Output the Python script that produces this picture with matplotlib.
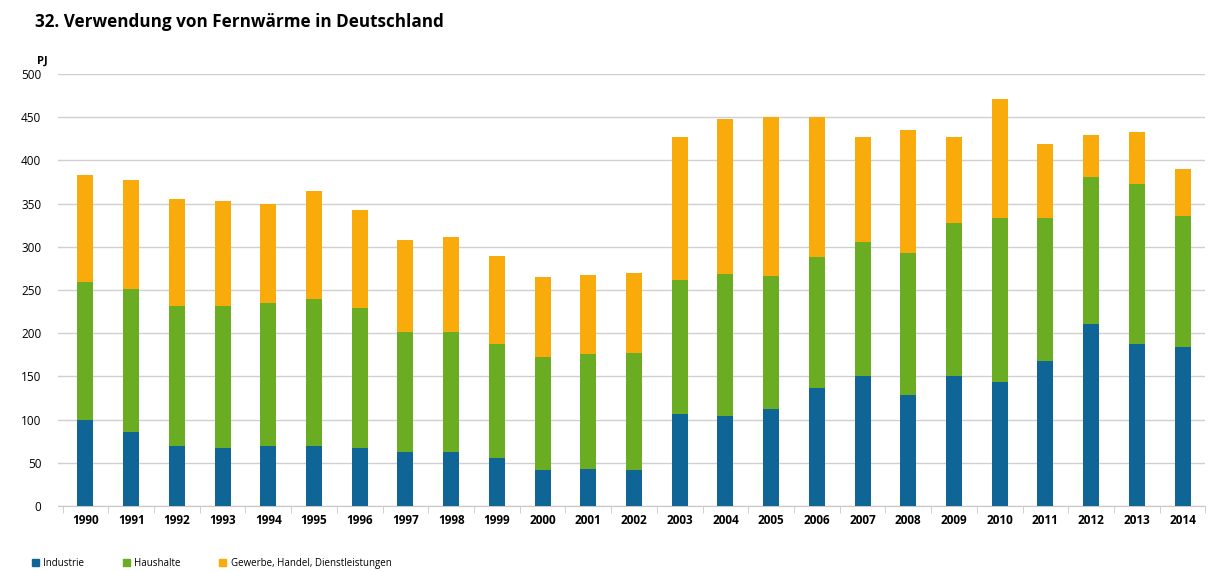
import numpy as np
import matplotlib.pyplot as plt
from matplotlib.patches import Patch

plt.rcParams['font.family'] = ['Open Sans', 'DejaVu Sans']

years = [str(y) for y in range(1990, 2015)]
industrie = [100, 86, 69, 67, 70, 70, 67, 62, 62, 56, 42, 43, 42,
             106, 104, 112, 136, 151, 128, 151, 144, 168, 211, 188, 184]
# cumulative top of the green segment
haus_top = [259, 251, 232, 231, 235, 240, 229, 201, 201, 188, 173, 176, 177,
            262, 269, 266, 288, 305, 293, 327, 333, 333, 381, 373, 336]
total = [383, 377, 355, 353, 349, 365, 343, 308, 311, 289, 265, 267, 270,
         427, 448, 450, 450, 427, 435, 427, 471, 419, 429, 433, 390]

haushalte = [h - i for h, i in zip(haus_top, industrie)]
gewerbe = [t - h for t, h in zip(total, haus_top)]
labels = ['Industrie', 'Haushalte', 'Gewerbe, Handel, Dienstleistungen']

c_blue = '#0f6596'
c_green = '#6aad23'
c_orange = '#f9ab0c'

fig = plt.figure(figsize=(12.09, 5.72), dpi=100)
ax = fig.add_axes([0.048, 0.1154, 0.949, 0.7552])

x = np.arange(len(years))
w = 0.35
ax.bar(x, industrie, w, color=c_blue, zorder=3)
ax.bar(x, haushalte, w, bottom=industrie, color=c_green, zorder=3)
ax.bar(x, gewerbe, w, bottom=haus_top, color=c_orange, zorder=3)

ax.set_xlim(-0.6, 24.5)
ax.set_ylim(0, 500)
ax.set_yticks(range(0, 501, 50))
ax.yaxis.grid(True, color='#d0d0d0', linewidth=1, zorder=0)
for s in ['top', 'right', 'left']:
    ax.spines[s].set_visible(False)
ax.spines['bottom'].set_color('#c8c8c8')
ax.tick_params(axis='y', length=0, labelsize=8.5, pad=12)
ax.set_xticks(x)
ax.set_xticklabels(years, fontweight='bold', fontsize=8.5)
ax.tick_params(axis='x', length=0, pad=6)
ax.set_xticks(np.arange(-0.5, 24.6, 1), minor=True)
ax.tick_params(axis='x', which='minor', length=5, color='#c8c8c8')

fig.text(0.029, 0.962, '32. Verwendung von Fernwärme in Deutschland',
         fontsize=12.3, fontweight='bold', va='center', ha='left')
fig.text(0.031, 0.893, 'PJ', fontsize=8, fontweight='bold', va='center')

handles = [Patch(color=c) for c in [c_blue, c_green, c_orange]]
fig.legend(handles, labels, loc='lower left', bbox_to_anchor=(0.019, -0.01),
           ncol=3, frameon=False, fontsize=7, handlelength=0.7, handleheight=0.8,
           handletextpad=0.45, columnspacing=4.0)

fig.savefig('out.png', dpi=100)
